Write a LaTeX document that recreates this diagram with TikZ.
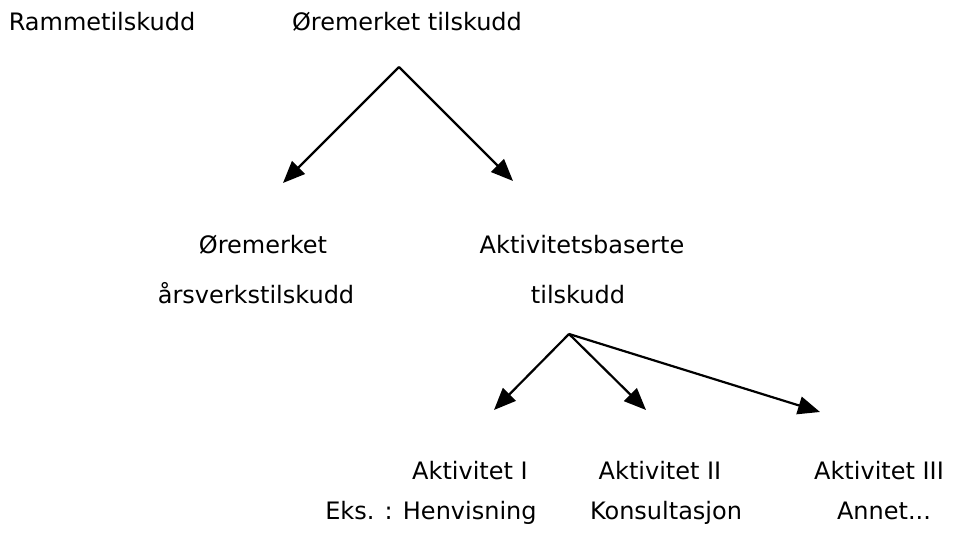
\documentclass[tikz,border=0pt]{standalone}
\usepackage{fontspec}
\setmainfont{DejaVu Sans}
\usetikzlibrary{arrows.meta}

\begin{document}
\begin{tikzpicture}[x=0.5pt,y=0.5pt,>={Triangle[length=11pt,width=9pt]},
  lbl/.style={inner sep=0pt,anchor=base,font=\fontsize{12}{14}\selectfont},
  pil/.style={->,line width=1.1pt}]
\useasboundingbox (0,0) rectangle (953,533);
\node[lbl] (ramme) at (102,502){Rammetilskudd};
\node[lbl] (oremerket) at (407,502){Øremerket tilskudd};
\node[lbl] (orearsverk) at (263,279){Øremerket};
\node[lbl] (aarsverk) at (256,229){årsverkstilskudd};
\node[lbl] (aktbas) at (582,279){Aktivitetsbaserte};
\node[lbl] (aktbas2) at (578,229){tilskudd};
\node[lbl] (akt1) at (470,53){Aktivitet I};
\node[lbl] (akt2) at (660,53){Aktivitet II};
\node[lbl] (akt3) at (879,53){Aktivitet III};
\node[lbl] (eks1) at (431,13){Eks. : Henvisning};
\node[lbl] (eks2) at (666,13){Konsultasjon};
\node[lbl] (eks3) at (884,13){Annet...};
\coordinate (topp) at (399,466);
\coordinate (venstre) at (283,350);
\coordinate (hoyre) at (513,352);
\coordinate (akttopp) at (569,199);
\coordinate (pil1) at (494,123);
\coordinate (pil2) at (646,123);
\coordinate (pil3) at (820,121);
\draw[pil] (topp)--(venstre);
\draw[pil] (topp)--(hoyre);
\draw[pil] (akttopp)--(pil1);
\draw[pil] (akttopp)--(pil2);
\draw[pil] (akttopp)--(pil3);
\end{tikzpicture}
\end{document}
